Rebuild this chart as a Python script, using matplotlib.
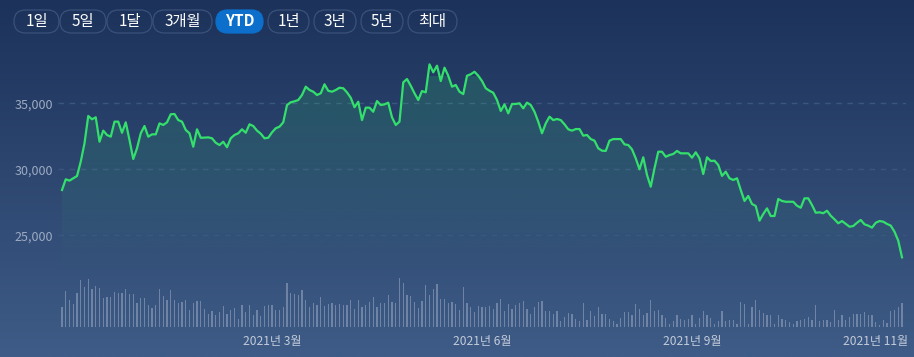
import numpy as np
import matplotlib
matplotlib.use("Agg")
import matplotlib.pyplot as plt
from matplotlib.patches import FancyBboxPatch
from matplotlib.colors import to_rgb

plt.rcParams['font.family'] = ['Noto Sans CJK KR', 'DejaVu Sans']

# closing prices (KRW), one per trading day
close = [
    28430, 29240, 29140, 29320, 29490, 30580, 31970, 34040, 33790, 33940,
    32090, 32930, 32600, 32470, 33610, 33610, 32770, 33560, 32220, 30780,
    31590, 32730, 33280, 32470, 32650, 32650, 33480, 33360, 33560, 34170,
    34190, 33730, 33610, 32980, 32730, 31710, 33030, 32390, 32400, 32420,
    32350, 32010, 31840, 32090, 31670, 32350, 32600, 32730, 33030, 32770,
    33410, 33280, 32930, 32700, 32350, 32390, 32800, 33110, 33230, 33560,
    34870, 35080, 35150, 35250, 35630, 36260, 36010, 35880, 35630, 35760,
    36440, 35950, 35880, 36010, 36180, 36140, 35830, 35420, 34700, 35120,
    33730, 34670, 34670, 34360, 35170, 34870, 34920, 35050, 33940, 33360,
    33610, 36590, 36840, 36330, 35760, 35250, 35930, 35830, 37950, 37350,
    37850, 36690, 37700, 37090, 36260, 36390, 35880, 35700, 37090, 37200,
    37390, 37090, 36690, 36140, 35950, 35800, 35250, 34420, 34920, 34240,
    34950, 34950, 35000, 34620, 35050, 34870, 34360, 33610, 32730, 33480,
    33990, 33730, 33810, 33730, 33410, 33030, 32930, 33050, 33050, 32550,
    32600, 32290, 32170, 31590, 31410, 31390, 32170, 32290, 32290, 32290,
    31890, 31840, 31510, 30830, 30000, 30910, 29570, 28680, 30080, 31330,
    31330, 30950, 31080, 31160, 31390, 31210, 31210, 31210, 30880, 31290,
    30830, 29640, 30910, 30630, 30650, 30330, 29500, 29820, 29320, 29190,
    29320, 28430, 27600, 27980, 27370, 27220, 26110, 26610, 27040, 26460,
    26460, 27750, 27600, 27540, 27540, 27540, 27240, 27090, 27800, 27800,
    27290, 26710, 26740, 26670, 26860, 26480, 26210, 25910, 26080, 25860,
    25650, 25700, 25950, 26160, 25830, 25730, 25580, 25950, 26080, 26030,
    25860, 25730, 25270, 24590, 23330,
]

# trading volume (relative units)
volume = [
    20, 36, 27, 23, 34, 47, 40, 48, 38, 41,
    39, 29, 30, 30, 35, 34, 34, 38, 33, 33,
    24, 29, 29, 22, 19, 22, 38, 31, 27, 37,
    27, 24, 25, 27, 17, 24, 26, 26, 18, 13,
    16, 12, 15, 21, 13, 17, 19, 8, 22, 15,
    22, 12, 17, 11, 21, 22, 22, 17, 17, 20,
    44, 34, 33, 32, 37, 27, 20, 24, 22, 30,
    21, 23, 24, 22, 23, 22, 22, 27, 18, 27,
    20, 22, 25, 30, 20, 24, 24, 32, 25, 24,
    49, 44, 32, 31, 25, 19, 26, 42, 32, 38,
    43, 28, 28, 24, 25,
    23, 17, 40, 24, 20, 15, 21, 20, 20, 21,
    18, 24, 28, 16, 23, 18, 22, 24, 26, 18,
    13, 20, 25, 26, 16, 16, 13, 16, 6, 10,
    14, 13, 8, 6, 24, 7, 16, 11, 20, 13,
    13, 8, 6, 3, 9, 15, 15, 12, 23, 18,
    12, 14, 27, 16, 17, 12, 9, 3, 6, 12,
    8, 7, 8, 12, 3, 9, 16, 12, 9, 3,
    6, 16, 6, 7, 7, 3, 25, 23, 3, 20,
    27, 17, 14, 12, 12, 3, 12, 8, 7, 5,
    3, 6, 7, 8, 10, 7, 22, 6, 7, 7,
    5, 17, 7, 12, 7, 10, 13, 13, 13, 15,
    12, 12, 5, 2, 7, 4, 16, 17, 20, 24,
]

month_pos = [56, 112, 168, 217]
month_labels = ["2021년 3월", "2021년 6월", "2021년 9월", "2021년 11월"]
price_ticks = [25000, 30000, 35000]

ranges = ["1일", "5일", "1달", "3개월", "YTD", "1년", "3년", "5년", "최대"]
active = "YTD"

W, H = 914, 357
fig = plt.figure(figsize=(W / 100, H / 100), dpi=100)

# background gradient + buttons, in pixel coordinates
bg = fig.add_axes([0, 0, 1, 1], zorder=0)
bg.set_xlim(0, W)
bg.set_ylim(H, 0)
bg.axis("off")
top = np.array([28, 50, 90]) / 255
bot = np.array([62, 92, 135]) / 255
t = np.linspace(0, 1, 256)[:, None, None]
grad = top * (1 - t) + bot * t
bg.imshow(np.repeat(grad, 2, axis=1), extent=[0, W, H, 0], aspect="auto")

btn_x = [14, 60, 107, 153, 216, 268, 314, 361, 408]
btn_w = [45, 46, 45, 59, 47, 41, 42, 42, 49]
for lbl, bx, bw in zip(ranges, btn_x, btn_w):
    on = lbl == active
    box = FancyBboxPatch((bx, 10), bw, 23,
                         boxstyle="round,pad=0,rounding_size=11.5",
                         facecolor="#0b6fcb" if on else "none",
                         edgecolor="#0b6fcb" if on else "#3a5179",
                         linewidth=0.9)
    bg.add_patch(box)
    bg.text(bx + bw / 2, 21.5, lbl, color="white", fontsize=11,
            fontweight="bold" if on else "normal", ha="center", va="center")

n = len(close)
x = np.arange(n)
line_col = "#34e06c"
ybot, ytop = 21990, 39040

# price pane
ax = fig.add_axes([58.25 / W, 1 - 275 / H, 847.5 / W, 225 / H], zorder=2)
ax.patch.set_alpha(0)
ax.plot(x, close, color=line_col, linewidth=1.6, solid_joinstyle="round", zorder=3)
area = ax.fill_between(x, close, ybot, facecolor="none", linewidth=0)
# fading fill under the line
rgba = np.zeros((256, 2, 4))
rgba[..., :3] = to_rgb(line_col)
rgba[..., 3] = np.linspace(0.17, 0.0, 256)[:, None]
img = ax.imshow(rgba, extent=[-1, n, ybot, 37000], aspect="auto",
                origin="upper", zorder=2)
img.set_clip_path(area.get_paths()[0], transform=ax.transData)
ax.set_xlim(-1, n)
ax.set_ylim(ybot, ytop)
ax.set_yticks(price_ticks)
ax.set_yticklabels([f"{v:,}" for v in price_ticks])
ax.yaxis.grid(True, color="#3b5580", linestyle=(0, (4, 4)), linewidth=1)
ax.set_axisbelow(True)
ax.tick_params(axis="y", length=0, pad=4, labelcolor="#9eabc2", labelsize=9)
ax.set_xticks([])
for s in ax.spines.values():
    s.set_visible(False)

# volume pane
vx = np.arange(len(volume))
vax = fig.add_axes([58.25 / W, 1 - 327 / H, 847.5 / W, 50 / H], zorder=1)
vax.patch.set_alpha(0)
vax.bar(vx, volume, width=0.3, color="#a6b3c9", alpha=0.5, linewidth=0)
vax.set_xlim(-1, n)
vax.set_ylim(0, 50)
vax.set_yticks([])
vax.set_xticks(month_pos)
vax.set_xticklabels(month_labels)
vax.tick_params(axis="x", length=0, pad=6, labelcolor="#c3cbd9", labelsize=8.7)
for s in vax.spines.values():
    s.set_visible(False)

fig.savefig("out.png", dpi=100)
